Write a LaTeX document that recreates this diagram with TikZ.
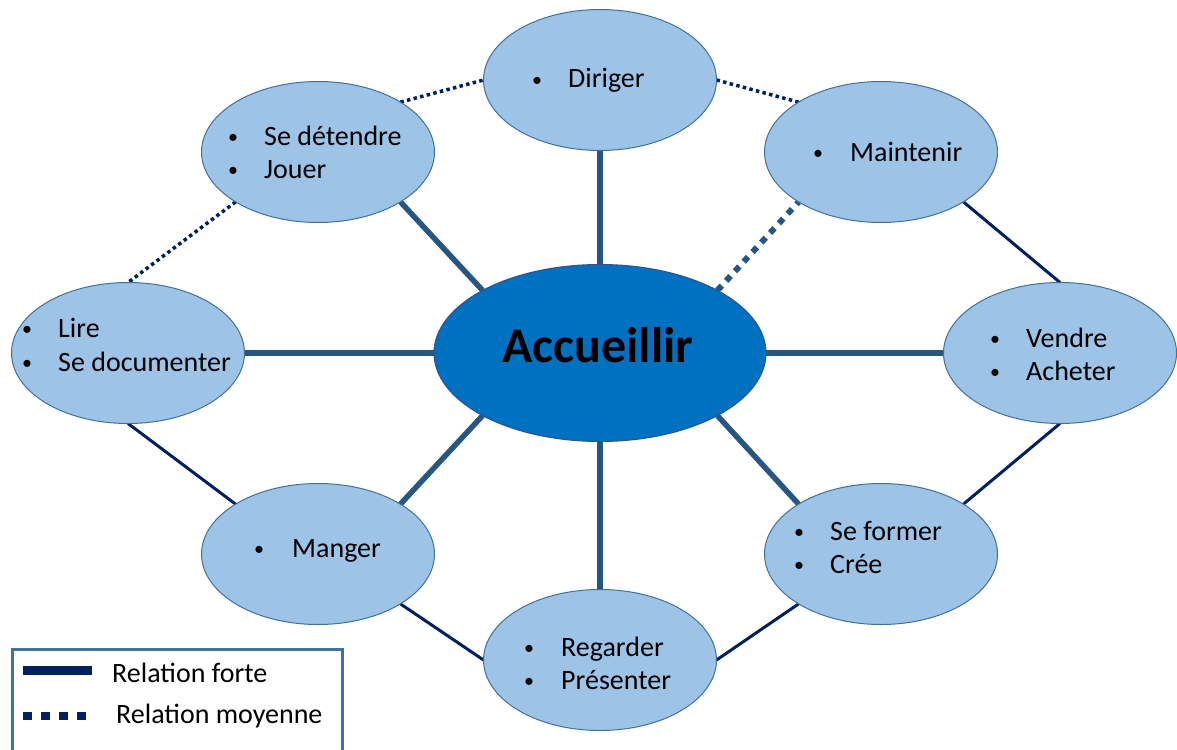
\documentclass[tikz,border=0pt]{standalone}
\usepackage{fontspec}
\setmainfont{Carlito}
\usetikzlibrary{shapes.geometric}
\pgfdeclarelayer{bg}
\pgfsetlayers{bg,main}
\definecolor{satfill}{HTML}{9DC3E6}
\definecolor{satdraw}{HTML}{41719C}
\definecolor{cenfill}{HTML}{0070C0}
\definecolor{cendraw}{HTML}{2F528F}
\definecolor{thickc}{RGB}{40,86,130}
\definecolor{navy}{HTML}{002060}
\definecolor{legdraw}{HTML}{41719C}
\begin{document}
\begin{tikzpicture}[x=1pt,y=-1pt,
  sat/.style={ellipse, draw=satdraw, fill=satfill, line width=1pt, minimum width=233pt, minimum height=141pt, inner sep=0pt, outer sep=0pt},
  cen/.style={ellipse, draw=cendraw, fill=cenfill, line width=1pt, minimum width=332pt, minimum height=177pt, inner sep=0pt, outer sep=0pt},
  strong/.style={line width=5.5pt, draw=thickc},
  strongdot/.style={line width=6pt, draw=thickc, dash pattern=on 6.5pt off 6.5pt},
  ring/.style={line width=3pt, draw=navy},
  ringdot/.style={line width=3.5pt, draw=navy, dash pattern=on 3.5pt off 3.3pt},
  lbl/.style={anchor=base west, inner sep=0pt, font=\fontsize{28}{34}\selectfont},
  bul/.style={anchor=base, inner sep=0pt, yshift=1.2pt, font=\fontsize{20}{24}\selectfont},
  leg/.style={anchor=base west, inner sep=0pt, font=\fontsize{28}{34}\selectfont},
]
\useasboundingbox (0,0) rectangle (1177,749);

% ellipses
\node[cen] (C) at (600,353) {};
\node[sat] (dir) at (600,80) {};
\node[sat] (det) at (318,152) {};
\node[sat] (mai) at (881,152) {};
\node[sat] (lir) at (128,353) {};
\node[sat] (ven) at (1060,353) {};
\node[sat] (man) at (318,554) {};
\node[sat] (for) at (881,554) {};
\node[sat] (reg) at (600,660) {};

% connectors
\begin{pgfonlayer}{bg}
\draw[strong] (C.north) -- (dir.south);
\draw[strong] (C.north west) -- (det.south east);
\draw[strongdot] (C.north east) -- (mai.south west);
\draw[strong] (C.west) -- (lir.east);
\draw[strong] (C.east) -- (ven.west);
\draw[strong] (C.south west) -- (man.north east);
\draw[strong] (C.south east) -- (for.north west);
\draw[strong] (C.south) -- (reg.north);
\draw[ringdot] (det.north east) -- (dir.west);
\draw[ringdot] (dir.east) -- (mai.north west);
\draw[ringdot] (det.south west) -- (lir.north);
\draw[ring] (mai.south east) -- (ven.north);
\draw[ring] (lir.south) -- (man.north west);
\draw[ring] (ven.south) -- (for.north east);
\draw[ring] (man.south east) -- (reg.west);
\draw[ring] (for.south west) -- (reg.east);
\end{pgfonlayer}

% texts
\node[anchor=base, inner sep=0pt, font=\fontsize{50}{60}\selectfont\bfseries] (tC) at (598,362) {Accueillir};

\node[bul] (b1) at (537,88) {•};
\node[lbl] (t1) at (568,88) {Diriger};

\node[bul] (b2) at (233,145) {•};
\node[lbl] (t2) at (264,145) {Se détendre};
\node[bul] (b3) at (233,178) {•};
\node[lbl] (t3) at (264,178) {Jouer};

\node[bul] (b4) at (818,161) {•};
\node[lbl] (t4) at (850,161) {Maintenir};

\node[bul] (b5) at (27,337) {•};
\node[lbl] (t5) at (58,337) {Lire};
\node[bul] (b6) at (27,371) {•};
\node[lbl] (t6) at (58,371) {Se documenter};

\node[bul] (b7) at (995,347) {•};
\node[lbl] (t7) at (1026,347) {Vendre};
\node[bul] (b8) at (995,380) {•};
\node[lbl] (t8) at (1026,380) {Acheter};

\node[bul] (b9) at (799,540) {•};
\node[lbl] (t9) at (830,540) {Se former};
\node[bul] (b10) at (799,573) {•};
\node[lbl] (t10) at (830,573) {Crée};

\node[bul] (b11) at (259,557) {•};
\node[lbl] (t11) at (292,557) {Manger};

\node[bul] (b12) at (529,656) {•};
\node[lbl] (t12) at (561,656) {Regarder};
\node[bul] (b13) at (529,689) {•};
\node[lbl] (t13) at (561,689) {Présenter};

% legend
\draw[legdraw, line width=3pt] (12,765) -- (12,649.5) -- (342.5,649.5) -- (342.5,765);
\coordinate (l1a) at (22.5,670.5);
\coordinate (l1b) at (91.7,670.5);
\coordinate (l2a) at (22.7,716);
\coordinate (l2b) at (86.5,716);
\draw[navy, line width=8.5pt] (l1a) -- (l1b);
\draw[navy, line width=8.5pt, dash pattern=on 9pt off 9.1pt] (l2a) -- (l2b);
\node[leg] (lt1) at (112,682) {Relation forte};
\node[leg] (lt2) at (116,723) {Relation moyenne};
\end{tikzpicture}
\end{document}
